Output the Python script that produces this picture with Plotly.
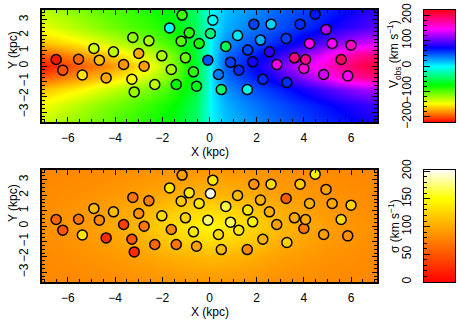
import plotly.graph_objects as go

# --- fibre positions (same in both panels) ---
x_kpc = [-6.50, -6.22, -5.55, -5.39, -4.90, -4.67, -4.38, -4.07, -3.64, -3.29,
         -3.25, -3.19, -3.00, -2.77, -2.57, -2.32, -2.02, -1.69, -1.62, -1.41,
         -1.20, -1.16, -1.02, -0.86, -0.68, -0.55, -0.44, -0.07, 0.04, 0.14,
         0.38, 0.50, 0.69, 0.89, 1.19, 1.24, 1.60, 1.62, 1.83, 1.88,
         2.16, 2.26, 2.54, 2.61, 2.85, 3.25, 3.28, 3.60, 3.84, 4.00,
         4.07, 4.24, 4.48, 4.84, 4.94, 5.20, 5.58, 5.86, 6.00]
y_kpc = [0.42, -0.27, 0.44, -0.58, 1.14, 0.38, -0.77, 0.92, 0.10, -0.86,
         1.85, -1.68, 0.81, -0.01, 1.63, -1.20, 0.66, 2.47, -0.23, -1.20,
         1.61, 3.30, 0.53, 2.15, -0.38, -1.31, 1.46, 0.38, 2.11, 2.97,
         -0.55, -1.53, 1.27, 0.25, 1.98, -0.27, -1.53, 1.03, 0.27, 2.71,
         1.68, -0.86, 0.92, 2.71, 0.10, 1.79, -1.07, 0.53, 2.71, -0.16,
         0.42, 1.46, 3.36, -0.55, 2.37, 1.46, 0.42, -0.64, 1.35]

# observed velocity and dispersion of each fibre (km/s)
v_obs = [-214, -196, -190, -153, -134, -165, -171, -128, -177, -149,
         -116, -116, -171, -174, -122, -128, -122, -3, -122, -73,
         -98, -92, -104, -86, -86, -67, -79, 49, -40, 0,
         37, -43, -49, 55, 6, 61, -6, 55, 80, 55,
         24, 61, 86, 12, 153, 55, 61, 189, 61, 159,
         183, 147, 67, 134, 128, 147, 196, 147, 165]
sigma = [62, 50, 70, 137, 112, 82, 25, 112, 37, 50,
         70, 25, 87, 70, 75, 62, 130, 137, 82, 70,
         120, 95, 125, 137, 137, 95, 137, 175, 200, 137,
         130, 112, 165, 170, 112, 137, 82, 137, 145, 87,
         105, 105, 105, 130, 95, 55, 125, 100, 120, 70,
         100, 105, 142, 95, 95, 100, 130, 87, 125]

# --- model maps behind the points, coarse grid ---
vmap_x = [-7.1, -6.3, -5.5, -4.5, -3.5, -2.5, -1.5, -0.6, -0.1,
          0.1, 0.7, 1.5, 2.5, 3.5, 4.5, 5.5, 6.3, 7.1]
vmap_y = [-3.63, -2.5, -1.5, -0.7, 0.0, 0.7, 1.5, 2.5, 3.63]
vmap_z = [
    [-130, -122, -114, -103, -92, -81, -68, -45, -15, 3, 18, 28, 40, 50, 58, 66, 74, 80],
    [-145, -135, -125, -112, -100, -88, -74, -50, -16, 4, 22, 34, 46, 56, 66, 76, 84, 90],
    [-165, -158, -150, -136, -122, -108, -88, -58, -18, 6, 32, 46, 58, 72, 88, 105, 118, 124],
    [-195, -186, -176, -165, -150, -130, -105, -62, -20, 8, 42, 58, 76, 100, 130, 160, 180, 190],
    [-214, -204, -193, -183, -166, -145, -110, -64, -20, 8, 48, 64, 88, 122, 150, 180, 200, 210],
    [-195, -186, -176, -165, -150, -130, -105, -62, -20, 8, 42, 58, 76, 100, 130, 160, 180, 190],
    [-165, -158, -150, -136, -122, -108, -88, -58, -18, 6, 32, 46, 58, 72, 92, 115, 128, 136],
    [-142, -132, -122, -110, -98, -88, -74, -50, -16, 4, 22, 34, 46, 56, 66, 80, 90, 98],
    [-125, -118, -110, -100, -90, -80, -67, -45, -15, 3, 18, 28, 40, 50, 58, 68, 78, 86],
]

smap_x = [-7.1, -5.0, -3.0, -1.5, 0.0, 1.5, 3.0, 5.0, 7.1]
smap_y = [-3.63, -2.0, -1.0, 0.0, 1.0, 2.0, 3.63]
smap_z = [
    [80, 82, 85, 88, 90, 88, 85, 82, 80],
    [82, 87, 95, 104, 110, 104, 95, 87, 82],
    [84, 91, 104, 122, 132, 122, 104, 91, 84],
    [85, 94, 110, 132, 148, 132, 110, 94, 85],
    [84, 91, 104, 122, 132, 122, 104, 91, 84],
    [82, 87, 95, 104, 110, 104, 95, 87, 82],
    [80, 82, 85, 88, 90, 88, 85, 82, 80],
]

VOBS_LIM = [-220, 220]
SIGMA_LIM = [0, 202]
X_LIM = [-7.1, 7.1]
Y_LIM = [-3.63, 3.63]

# R-like palettes
RAINBOW = [[0, '#FF0000'], [1 / 6, '#FFFF00'], [2 / 6, '#00FF00'], [3 / 6, '#00FFFF'],
           [4 / 6, '#0000FF'], [5 / 6, '#FF00FF'], [1, '#FF0018']]
HEAT = [[0, '#FF0000'], [0.75, '#FFFF00'], [1, '#FFFFF6']]

W, H = 458, 320


def px_x(px):
    return px / W


def px_y(py):
    return 1 - py / H


PANEL_X = [px_x(42), px_x(377)]
KEY_X = [px_x(424), px_x(455)]
TOP_Y = [px_y(122), px_y(10)]
BOT_Y = [px_y(282), px_y(170)]

FONT = 'Liberation Sans, Arial, sans-serif'


def add_panel(fig, xa, ya, mx, my, mz, values, scale, lim):
    """Background map plus the fibre circles for one panel."""
    fig.add_trace(go.Heatmap(
        x=mx, y=my, z=mz, colorscale=scale, zmin=lim[0], zmax=lim[1],
        zsmooth='best', showscale=False, hoverinfo='skip',
        xaxis=xa, yaxis=ya))
    fig.add_trace(go.Scatter(
        x=x_kpc, y=y_kpc, mode='markers',
        marker=dict(size=10, color=values, colorscale=scale,
                    cmin=lim[0], cmax=lim[1], showscale=False,
                    line=dict(color='black', width=1.5)),
        showlegend=False, xaxis=xa, yaxis=ya))


def add_key(fig, xa, ya, scale, lim):
    """Colour key drawn as a tiny heatmap so the axis can sit on its left."""
    fig.add_trace(go.Heatmap(
        x=[0, 1], y=lim, z=[[lim[0], lim[0]], [lim[1], lim[1]]],
        colorscale=scale, zmin=lim[0], zmax=lim[1], zsmooth='best',
        showscale=False, hoverinfo='skip', xaxis=xa, yaxis=ya))


def main_x(anchor):
    return dict(domain=PANEL_X, range=X_LIM, anchor=anchor, automargin=False,
                showline=True, linecolor='black', linewidth=1.5, mirror='ticks',
                ticks='inside', ticklen=5, tickcolor='black', tickwidth=1,
                tickvals=[-6, -4, -2, 0, 2, 4, 6], ticklabelstandoff=4,
                tickfont=dict(size=12), ticklabeloverflow='allow',
                minor=dict(ticks='inside', ticklen=3, dtick=0.5, tick0=0,
                           tickcolor='black'),
                showgrid=False, zeroline=False)


def main_y(domain, anchor):
    return dict(domain=domain, range=Y_LIM, anchor=anchor, automargin=False,
                showline=True, linecolor='black', linewidth=1.5, mirror='ticks',
                ticks='inside', ticklen=5, tickcolor='black', tickwidth=1,
                tickvals=[-3, -2, -1, 0, 1, 2, 3], tickangle=-90,
                ticklabelstandoff=7, tickfont=dict(size=12),
                ticklabeloverflow='allow',
                minor=dict(ticks='inside', ticklen=3, dtick=0.25, tick0=0,
                           tickcolor='black'),
                showgrid=False, zeroline=False)


def key_x(anchor):
    return dict(domain=KEY_X, range=[0, 1], anchor=anchor, automargin=False,
                showline=True, linecolor='black', linewidth=1, mirror=True,
                ticks='', showticklabels=False, showgrid=False, zeroline=False)


def key_y(domain, anchor, lim, tickvals, minor_step):
    return dict(domain=domain, range=lim, anchor=anchor, side='left',
                automargin=False,
                showline=True, linecolor='black', linewidth=1, mirror=True,
                ticks='inside', ticklen=6, tickcolor='black', tickwidth=1,
                tickvals=tickvals, tickangle=-90, ticklabelstandoff=7,
                tickfont=dict(size=12), ticklabeloverflow='allow',
                minor=dict(ticks='inside', ticklen=3, dtick=minor_step,
                           tick0=0, tickcolor='black'),
                showgrid=False, zeroline=False)


fig = go.Figure()
add_panel(fig, 'x', 'y', vmap_x, vmap_y, vmap_z, v_obs, RAINBOW, VOBS_LIM)
add_panel(fig, 'x2', 'y2', smap_x, smap_y, smap_z, sigma, HEAT, SIGMA_LIM)
add_key(fig, 'x3', 'y3', RAINBOW, VOBS_LIM)
add_key(fig, 'x4', 'y4', HEAT, SIGMA_LIM)

mid_x = (PANEL_X[0] + PANEL_X[1]) / 2
annotations = [
    dict(text='X (kpc)', x=mid_x, y=px_y(152)),
    dict(text='X (kpc)', x=mid_x, y=px_y(312)),
    dict(text='Y (kpc)', x=px_x(13), y=px_y(50), textangle=-90),
    dict(text='Y (kpc)', x=px_x(13), y=px_y(203), textangle=-90),
    dict(text='V<sub>obs</sub> (km s<sup>\u22121</sup>)', x=px_x(394), y=px_y(54),
         textangle=-90),
    dict(text='\u03c3 (km s<sup>\u22121</sup>)', x=px_x(394), y=px_y(226),
         textangle=-90),
]
for a in annotations:
    a.update(xref='paper', yref='paper', showarrow=False,
             xanchor='center', yanchor='middle',
             font=dict(family=FONT, size=12, color='black'))

fig.update_layout(
    width=W, height=H, margin=dict(l=0, r=0, t=0, b=0, autoexpand=False),
    paper_bgcolor='white', plot_bgcolor='white',
    font=dict(family=FONT, size=12, color='black'),
    showlegend=False,
    xaxis=main_x('y'), yaxis=main_y(TOP_Y, 'x'),
    xaxis2=main_x('y2'), yaxis2=main_y(BOT_Y, 'x2'),
    xaxis3=key_x('y3'),
    yaxis3=key_y(TOP_Y, 'x3', VOBS_LIM, [-200, -100, 0, 100, 200], 20),
    xaxis4=key_x('y4'),
    yaxis4=key_y(BOT_Y, 'x4', SIGMA_LIM, [0, 50, 100, 150, 200], 10),
    annotations=annotations,
)

# drop the default 8px page margin so the figure sits at the window corner
fig.write_html("out.html", config={'displayModeBar': False},
               post_script="document.body.style.margin = '0';")
